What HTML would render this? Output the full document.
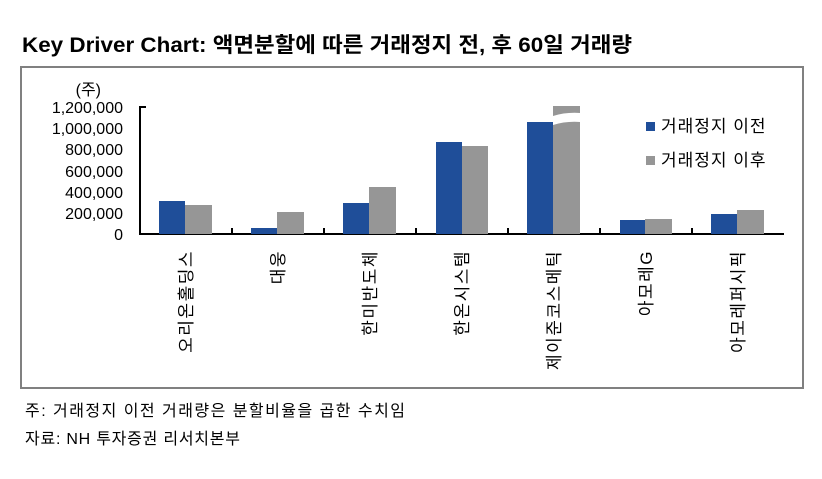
<!DOCTYPE html>
<html><head><meta charset="utf-8"><style>
body{margin:0;background:#fff;}
svg{display:block;font-family:"Liberation Sans","Noto Sans CJK KR",sans-serif;}
</style></head><body>
<svg width="822" height="479" viewBox="0 0 822 479" xmlns="http://www.w3.org/2000/svg">
<text x="22" y="52" font-size="21" font-weight="bold" fill="#000" textLength="610" lengthAdjust="spacingAndGlyphs">Key Driver Chart: 액면분할에 따른 거래정지 전, 후 60일 거래량</text>
<rect x="21" y="67" width="782" height="321" fill="none" stroke="#808080" stroke-width="2"/>
<g font-size="16" text-anchor="end" fill="#000">
<text x="101" y="95">(주)</text>
<text x="123" y="113">1,200,000</text>
<text x="123" y="134">1,000,000</text>
<text x="123" y="155">800,000</text>
<text x="123" y="177">600,000</text>
<text x="123" y="198">400,000</text>
<text x="123" y="219">200,000</text>
<text x="123" y="240">0</text>
</g>
<g stroke="#000" stroke-width="2">
<line x1="140" y1="106" x2="140" y2="235"/>
<line x1="139" y1="234" x2="784" y2="234"/>
<line x1="140" y1="107" x2="146" y2="107"/>
<line x1="232" y1="228" x2="232" y2="234"/>
<line x1="324" y1="228" x2="324" y2="234"/>
<line x1="416" y1="228" x2="416" y2="234"/>
<line x1="508" y1="228" x2="508" y2="234"/>
<line x1="600" y1="228" x2="600" y2="234"/>
<line x1="692" y1="228" x2="692" y2="234"/>
</g>
<g fill="#1f4e99">
<rect x="159" y="201" width="26" height="33"/>
<rect x="251" y="228" width="26" height="6"/>
<rect x="343" y="203" width="26" height="31"/>
<rect x="436" y="142" width="26" height="92"/>
<rect x="527" y="122" width="26" height="112"/>
<rect x="620" y="220" width="25" height="14"/>
<rect x="711" y="214" width="26" height="20"/>
</g>
<g fill="#969696">
<rect x="185" y="205" width="27" height="29"/>
<rect x="277" y="212" width="27" height="22"/>
<rect x="369" y="187" width="27" height="47"/>
<rect x="462" y="146" width="26" height="88"/>
<path d="M553 125 Q566 121 580 122 L580 234 L553 234 Z"/>
<path d="M553 106 L580 106 L580 113 Q566 112 553 116 Z"/>
<rect x="645" y="219" width="27" height="15"/>
<rect x="737" y="210" width="27" height="24"/>
</g>
<rect x="646" y="122" width="9" height="9" fill="#1f4e99"/>
<rect x="646" y="156" width="9" height="9" fill="#969696"/>
<g font-size="17" fill="#000">
<text x="661" y="132" letter-spacing="1">거래정지 이전</text>
<text x="661" y="166" letter-spacing="1">거래정지 이후</text>
</g>
<g font-size="17" fill="#000" text-anchor="end">
<text transform="translate(192,250) rotate(-90)" letter-spacing="1.5">오리온홀딩스</text>
<text transform="translate(284,250) rotate(-90)" letter-spacing="1.5">대웅</text>
<text transform="translate(376,250) rotate(-90)" letter-spacing="1.5">한미반도체</text>
<text transform="translate(468,250) rotate(-90)" letter-spacing="1.5">한온시스템</text>
<text transform="translate(560,250) rotate(-90)" letter-spacing="1.5">제이준코스메틱</text>
<text transform="translate(652,250) rotate(-90)" letter-spacing="1.5">아모레G</text>
<text transform="translate(744,250) rotate(-90)" letter-spacing="1.5">아모레퍼시픽</text>
</g>
<g font-size="16" fill="#000">
<text x="25" y="416" textLength="380" lengthAdjust="spacing">주: 거래정지 이전 거래량은 분할비율을 곱한 수치임</text>
<text x="25" y="444" textLength="215" lengthAdjust="spacing">자료: NH 투자증권 리서치본부</text>
</g>
</svg>
</body></html>
